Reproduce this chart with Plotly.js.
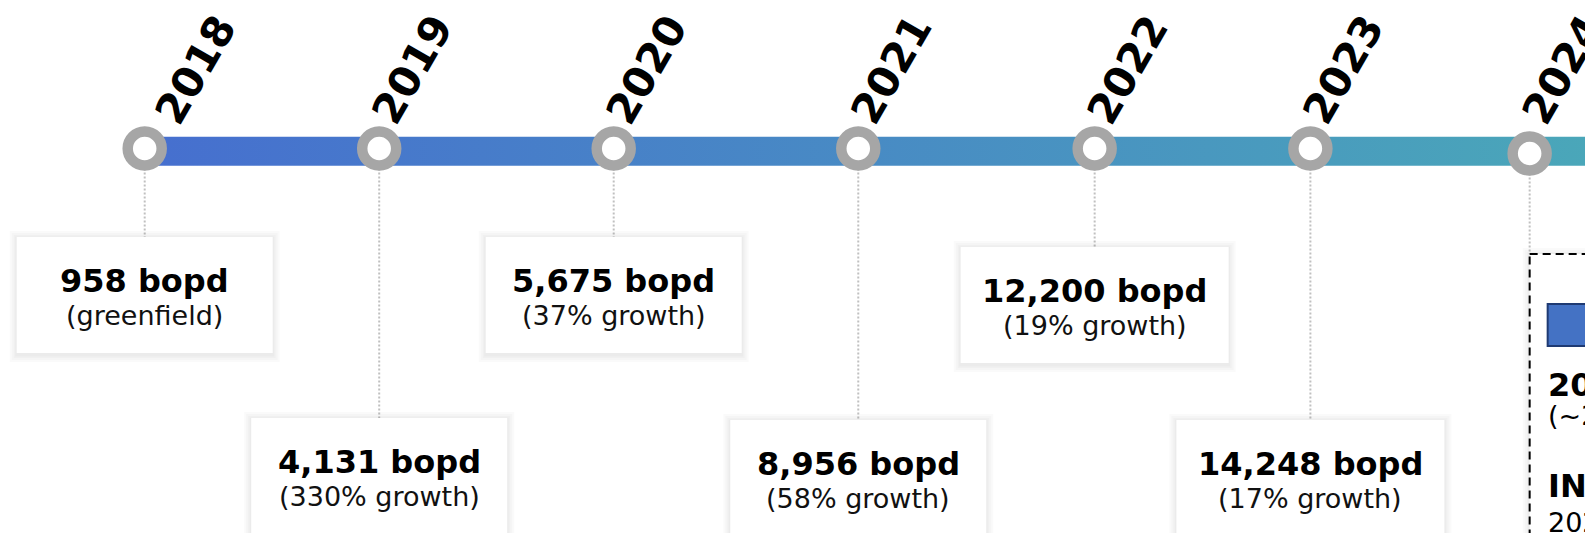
<!DOCTYPE html>
<html><head><meta charset="utf-8">
<script src="https://cdn.plot.ly/plotly-3.0.1.min.js"></script>
<style>html,body{margin:0;padding:0;background:#fff;overflow:hidden}#chart{width:1585px;height:533px}</style>
</head><body><div id="chart"></div>
<script>
// ---------------- data ----------------
const years = ['2018', '2019', '2020', '2021', '2022', '2023', '2024'];
// position of each year along the timeline (1 unit = one regular step)
const nodePos = [0, 1, 2, 3.043, 4.051, 4.971, 5.906];
const production = ['958 bopd', '4,131 bopd', '5,675 bopd', '8,956 bopd', '12,200 bopd', '14,248 bopd'];
const growthNotes = ['(greenfield)', '(330% growth)', '(37% growth)', '(58% growth)', '(19% growth)', '(17% growth)'];
const outlookBold = ['2024E', 'IN PROGRESS'];
const outlookNotes = ['(~20% growth)', '2025 outlook'];

// ---------------- layout constants ----------------
const W = 1585, H = 533;
const PX = 234.5;                       // pixels per timeline unit
const X0 = -144.7 / PX, X1 = X0 + W / PX;
const LINE_Y = 151.3, LINE_HALF = 14.5;
const NODE_Y = 148.5, NODE_DY = [0, 0, 0, 0, 0, 0, 5];
const LABEL_DX = [18, 0, 0, 0, 0, 0, 0];
const UPPER_TOP = 237, LOWER_TOP = 418, BOX_H = 116;
const BOX_NUDGE = [0, 0, 0, 2, 10, 2];
const FONT = 'DejaVu Sans, Verdana, sans-serif';

const traces = [];
traces.push({
  type: 'scatter', mode: 'none', hoverinfo: 'skip',
  x: [nodePos[0], X1 + 0.05, X1 + 0.05, nodePos[0]],
  y: [LINE_Y - LINE_HALF, LINE_Y - LINE_HALF, LINE_Y + LINE_HALF, LINE_Y + LINE_HALF],
  fill: 'toself',
  fillgradient: {type: 'horizontal', colorscale: [[0, '#466fcf'], [1, '#4aa7b9']]}
});
traces.push({
  type: 'scatter', mode: 'markers', hoverinfo: 'skip',
  x: nodePos, y: nodePos.map((_, i) => NODE_Y + NODE_DY[i]),
  marker: {size: 34, color: '#ffffff', line: {color: '#a6a6a6', width: 10.5}}
});

const shapes = [];
const annotations = [];

function shadow(x0, x1, y0, y1) {
  [7, 5, 3, 1.5].forEach(e => {
    shapes.push({type: 'rect', layer: 'below', xref: 'x', yref: 'y',
      x0: x0 - e / PX, x1: x1 + e / PX, y0: y0 - e + 1, y1: y1 + e + 2,
      fillcolor: 'rgba(0,0,0,0.018)', line: {width: 0}});
  });
}

production.forEach((label, i) => {
  const top = (i % 2 === 0 ? UPPER_TOP : LOWER_TOP) + BOX_NUDGE[i];
  const w = label.length > 10 ? 268 : 256;
  const x0 = nodePos[i] - w / 2 / PX, x1 = nodePos[i] + w / 2 / PX;
  shapes.push({type: 'line', layer: 'below', xref: 'x', yref: 'y',
    x0: nodePos[i], x1: nodePos[i], y0: NODE_Y + NODE_DY[i] + 20, y1: top,
    line: {color: '#c0c0c0', width: 2, dash: '2px,2px'}});
  shadow(x0, x1, top, top + BOX_H);
  shapes.push({type: 'rect', layer: 'below', xref: 'x', yref: 'y',
    x0: x0, x1: x1, y0: top, y1: top + BOX_H, fillcolor: '#ffffff', line: {width: 0}});
  annotations.push({x: nodePos[i], y: top + 44.4, xref: 'x', yref: 'y', text: label,
    showarrow: false, xanchor: 'center', yanchor: 'middle', borderpad: 0, borderwidth: 0,
    font: {family: FONT, size: 32, color: '#000', weight: 700}});
  annotations.push({x: nodePos[i], y: top + 78.7, xref: 'x', yref: 'y', text: growthNotes[i],
    showarrow: false, xanchor: 'center', yanchor: 'middle', borderpad: 0, borderwidth: 0,
    font: {family: FONT, size: 27, color: '#111'}});
});

// 2024 outlook box
const last = nodePos.length - 1;
const OB_TOP = 254;
shapes.push({type: 'line', layer: 'below', xref: 'x', yref: 'y',
  x0: nodePos[last], x1: nodePos[last], y0: NODE_Y + NODE_DY[last] + 20, y1: OB_TOP,
  line: {color: '#c0c0c0', width: 2, dash: '2px,2px'}});
shadow(nodePos[last], X1 + 0.2, OB_TOP, H + 40);
shapes.push({type: 'rect', layer: 'below', xref: 'x', yref: 'y',
  x0: nodePos[last], x1: X1 + 0.2, y0: OB_TOP, y1: H + 40,
  fillcolor: '#ffffff', line: {color: '#000', width: 2, dash: '8px,5px'}});
shapes.push({type: 'rect', layer: 'below', xref: 'x', yref: 'y',
  x0: nodePos[last] + 18 / PX, x1: X1 + 0.2, y0: 304, y1: 346,
  fillcolor: '#4472c4', line: {color: '#1f3a73', width: 2}});
const obX = nodePos[last] + 18 / PX;
[[outlookBold[0], 384.9, true], [outlookNotes[0], 415.2, false],
 [outlookBold[1], 485.9, true], [outlookNotes[1], 522.3, false]].forEach(([t, y, b]) => {
  annotations.push({x: obX, y: y, xref: 'x', yref: 'y', text: t, showarrow: false,
    xanchor: 'left', yanchor: 'middle', borderpad: 0, borderwidth: 0,
    font: {family: FONT, size: b ? 32 : 27, color: '#000', weight: b ? 700 : 400}});
});

// year labels
years.forEach((yr, i) => {
  annotations.push({x: nodePos[i], y: NODE_Y - 79, xshift: 33 + LABEL_DX[i], xref: 'x', yref: 'y', text: yr,
    showarrow: false, textangle: -60, xanchor: 'center', yanchor: 'middle', borderpad: 0, borderwidth: 0,
    font: {family: FONT, size: 42, color: '#000', weight: 700}});
});

const layout = {
  width: W, height: H, margin: {l: 0, r: 0, t: 0, b: 0, pad: 0},
  paper_bgcolor: '#ffffff', plot_bgcolor: '#ffffff', showlegend: false,
  xaxis: {range: [X0, X1], visible: false, fixedrange: true},
  yaxis: {range: [H, 0], visible: false, fixedrange: true},
  shapes: shapes, annotations: annotations
};
Plotly.newPlot('chart', traces, layout, {staticPlot: true, displayModeBar: false});
</script>
</body></html>
